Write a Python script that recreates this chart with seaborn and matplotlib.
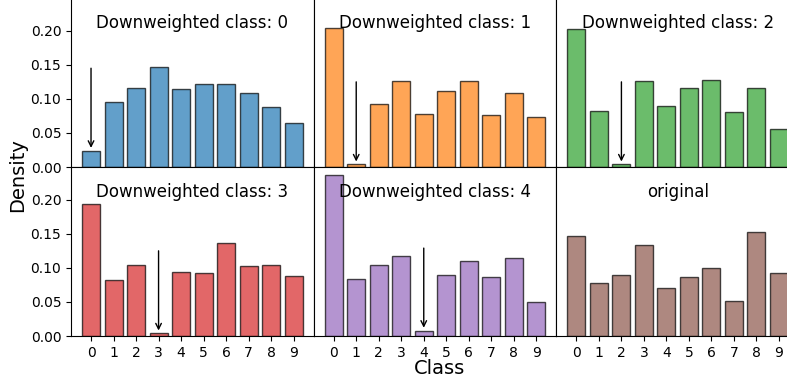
import matplotlib
matplotlib.use("Agg")
import matplotlib.pyplot as plt
import seaborn as sns

sns.set_style("ticks", rc={"text.color": "black", "axes.labelcolor": "black",
                           "xtick.color": "black", "ytick.color": "black",
                           "axes.edgecolor": "black"})
plt.rcParams["font.family"] = ["DejaVu Sans"]

classes = list(range(10))

# class densities after downweighting each class in turn, plus the original
dw0 = [0.024, 0.096, 0.116, 0.146, 0.114, 0.122, 0.122, 0.108, 0.088, 0.064]
dw1 = [0.204, 0.004, 0.092, 0.126, 0.078, 0.112, 0.126, 0.076, 0.108, 0.074]
dw2 = [0.202, 0.082, 0.004, 0.126, 0.090, 0.116, 0.128, 0.080, 0.116, 0.056]
dw3 = [0.194, 0.082, 0.104, 0.004, 0.094, 0.092, 0.136, 0.102, 0.104, 0.088]
dw4 = [0.236, 0.084, 0.104, 0.118, 0.008, 0.090, 0.110, 0.086, 0.114, 0.050]
original = [0.146, 0.078, 0.090, 0.134, 0.070, 0.086, 0.100, 0.052, 0.152, 0.092]

panels = [dw0, dw1, dw2, dw3, dw4, original]
titles = [f"Downweighted class: {i}" for i in range(5)] + ["original"]
downweighted = [0, 1, 2, 3, 4, None]
colors = sns.color_palette("tab10", 6)

fig, axes = plt.subplots(2, 3, figsize=(7.87, 3.83), dpi=100,
                         sharex=True, sharey=True)
fig.subplots_adjust(left=0.0902, right=1.0153, bottom=0.1227, top=1.005,
                    wspace=0, hspace=0)

for k, ax in enumerate(axes.flat):
    vals = panels[k]
    sns.barplot(x=classes, y=vals, ax=ax, color=colors[k], saturation=1,
                alpha=0.7, edgecolor="black", linewidth=1, width=0.8)
    ax.text(0.5, 0.823, titles[k], transform=ax.transAxes, ha="center",
            va="baseline", fontsize=12)
    c = downweighted[k]
    if c is not None:
        h = vals[c]
        ax.annotate("", xy=(c, h), xytext=(c, h + 0.125),
                    arrowprops=dict(arrowstyle="->", color="black", lw=1))
    ax.set_xlim(-0.89, 9.89)
    ax.set_ylim(0, 0.2478)
    ax.tick_params(labelsize=10)
    row, col = divmod(k, 3)
    if col > 0:
        ax.tick_params(axis="y", left=False, labelleft=False)
    if row == 0:
        ax.tick_params(axis="x", bottom=False, labelbottom=False)

fig.text(0.023, 0.543, "Density", rotation=90, ha="center", va="center",
         fontsize=14)
fig.text(0.558, 0.039, "Class", ha="center", va="center", fontsize=14)

fig.savefig("out.png", dpi=100)
